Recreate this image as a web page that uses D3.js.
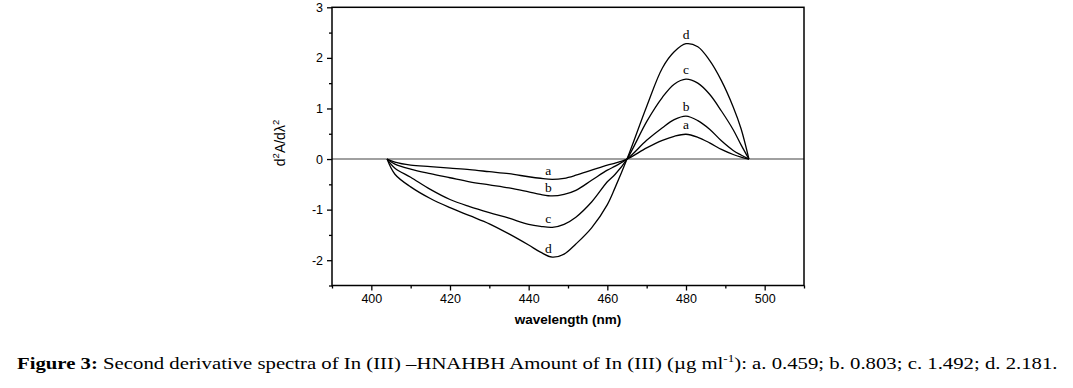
<!DOCTYPE html>
<html>
<head>
<meta charset="utf-8">
<title>Second derivative spectra</title>
<script src="https://cdn.jsdelivr.net/npm/d3@7"></script>
<style>
  body { margin: 0; background: #fff; }
  svg { display: block; }
</style>
</head>
<body>
<svg width="1073" height="388"></svg>
<script>
// wavelengths (nm) shared by all four spectra
var wavelength = [404, 406, 410, 415, 420, 425, 430, 435, 440, 443, 446, 449, 452, 456, 460, 462, 465,
                  470, 474, 477, 480, 483, 486, 489, 492, 494, 496];
var seriesA = [0, -0.06, -0.12, -0.15, -0.18, -0.21, -0.25, -0.29, -0.35, -0.38, -0.40, -0.38, -0.32, -0.22, -0.12, -0.08, 0,
               0.22, 0.37, 0.45, 0.49, 0.43, 0.32, 0.19, 0.09, 0.04, 0];
var seriesB = [0, -0.10, -0.20, -0.29, -0.37, -0.45, -0.51, -0.57, -0.65, -0.70, -0.73, -0.70, -0.62, -0.42, -0.22, -0.14, 0,
               0.37, 0.62, 0.78, 0.85, 0.76, 0.59, 0.36, 0.17, 0.08, 0];
var seriesC = [0, -0.18, -0.36, -0.60, -0.80, -0.94, -1.06, -1.17, -1.29, -1.33, -1.35, -1.29, -1.15, -0.85, -0.45, -0.30, 0,
               0.74, 1.22, 1.48, 1.58, 1.50, 1.28, 0.95, 0.58, 0.28, 0];
var seriesD = [0, -0.30, -0.55, -0.78, -0.96, -1.12, -1.28, -1.48, -1.70, -1.84, -1.94, -1.88, -1.68, -1.36, -0.90, -0.56, 0,
               1.04, 1.80, 2.12, 2.28, 2.22, 1.95, 1.55, 1.03, 0.60, 0];
var seriesNames = ["a", "b", "c", "d"];
var xTicks = [400, 420, 440, 460, 480, 500];
var xMinor = [390, 410, 430, 450, 470, 490, 510];
var yTicks = [-2, -1, 0, 1, 2, 3];
var yMinor = [-2.5, -1.5, -0.5, 0.5, 1.5, 2.5];

var svg = d3.select("svg");
var pLeft = 332, pRight = 804, pTop = 7.3, pBottom = 285.5;

var x = d3.scaleLinear().domain([390, 510]).range([pLeft, pRight]);
var y = d3.scaleLinear().domain([-2.5, 3]).range([pBottom, pTop]);

var all = [seriesA, seriesB, seriesC, seriesD];

// zero line
svg.append("line")
    .attr("x1", pLeft).attr("x2", pRight)
    .attr("y1", y(0)).attr("y2", y(0))
    .attr("stroke", "#808080").attr("stroke-width", 1.6);

var line = d3.line()
    .x(function (d, i) { return x(wavelength[i]); })
    .y(function (d) { return y(d); })
    .curve(d3.curveCatmullRom.alpha(0.5));

svg.selectAll(".spec")
    .data(all)
    .enter().append("path")
    .attr("class", "spec")
    .attr("d", line)
    .attr("fill", "none")
    .attr("stroke", "#000")
    .attr("stroke-width", 1.3);

// curve letters at the minimum and maximum of each curve
all.forEach(function (s, k) {
    var iMin = d3.minIndex(s), iMax = d3.maxIndex(s);
    svg.append("text")
        .attr("x", x(wavelength[iMin]) - 4)
        .attr("y", y(s[iMin]) - 4)
        .attr("text-anchor", "middle")
        .attr("font-family", "Liberation Serif, serif")
        .attr("font-size", 13.5)
        .text(seriesNames[k]);
    svg.append("text")
        .attr("x", x(wavelength[iMax]))
        .attr("y", y(s[iMax]) - 5)
        .attr("text-anchor", "middle")
        .attr("font-family", "Liberation Serif, serif")
        .attr("font-size", 13.5)
        .text(seriesNames[k]);
});

// frame
svg.append("rect")
    .attr("x", pLeft).attr("y", pTop)
    .attr("width", pRight - pLeft).attr("height", pBottom - pTop)
    .attr("fill", "none").attr("stroke", "#000").attr("stroke-width", 1.5);

// axes
var plain = function (d) { return String(d); };
svg.append("g").attr("transform", "translate(0," + pBottom + ")")
    .call(d3.axisBottom(x).tickValues(xTicks).tickSize(5).tickPadding(4).tickFormat(plain));
svg.append("g").attr("transform", "translate(0," + pBottom + ")")
    .call(d3.axisBottom(x).tickValues(xMinor).tickSize(3).tickFormat(""));
svg.append("g").attr("transform", "translate(" + pLeft + ",0)")
    .call(d3.axisLeft(y).tickValues(yTicks).tickSize(5).tickPadding(4).tickFormat(plain));
svg.append("g").attr("transform", "translate(" + pLeft + ",0)")
    .call(d3.axisLeft(y).tickValues(yMinor).tickSize(3).tickFormat(""));

svg.selectAll(".domain").remove();
svg.selectAll(".tick line").attr("stroke", "#000").attr("stroke-width", 1.3);
svg.selectAll(".tick text")
    .attr("font-family", "Liberation Sans, Arial, sans-serif")
    .attr("font-size", 12.5)
    .attr("fill", "#000");

// axis titles
svg.append("text")
    .attr("x", (pLeft + pRight) / 2).attr("y", 324)
    .attr("text-anchor", "middle")
    .attr("font-family", "Liberation Sans, Arial, sans-serif")
    .attr("font-size", 13.5).attr("font-weight", "bold")
    .text("wavelength (nm)");

var yl = svg.append("text")
    .attr("transform", "translate(285,143) rotate(-90)")
    .attr("text-anchor", "middle")
    .attr("font-family", "Liberation Sans, Arial, sans-serif")
    .attr("font-size", 14);
yl.append("tspan").text("d");
yl.append("tspan").attr("dy", -6).attr("font-size", 9.5).text("2");
yl.append("tspan").attr("dy", 6).text("A/d\u03bb");
yl.append("tspan").attr("dy", -6).attr("font-size", 9.5).text("2");

// caption, stretched horizontally like the source figure
var cap = svg.append("text")
    .attr("x", 0).attr("y", 0)
    .attr("font-family", "Liberation Serif, 'Times New Roman', serif")
    .attr("font-size", 17.5)
    .attr("fill", "#000");
cap.append("tspan").attr("font-weight", "bold").text("Figure 3:");
cap.append("tspan").text(" Second derivative spectra of In (III) \u2013HNAHBH Amount of In (III) (\u00b5g ml");
cap.append("tspan").attr("dy", -7).attr("font-size", 11).text("-1");
cap.append("tspan").attr("dy", 7).text("): a. 0.459; b. 0.803; c. 1.492; d. 2.181.");
var capW = cap.node().getBBox().width;
cap.attr("transform", "translate(17,369) scale(" + (1041 / capW) + ",1)");
</script>
</body>
</html>
